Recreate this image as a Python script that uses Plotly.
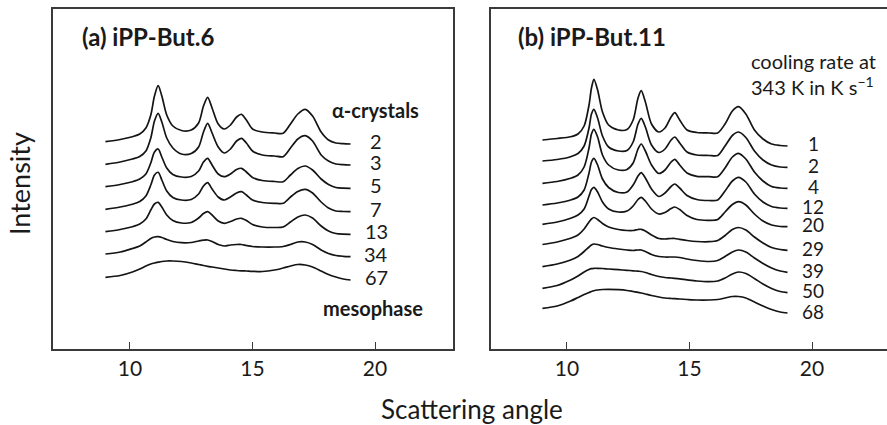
import plotly.graph_objects as go

W, H = 887, 425

# ---------------- data (scattering angle vs. intensity, arbitrary units, stacked) -------------
angle_a = [9.0, 9.6, 10.1, 10.4, 10.65, 10.85, 11.0, 11.15, 11.3, 11.5, 11.75, 12.1, 12.5, 12.8,
           13.0, 13.17, 13.35, 13.6, 13.85, 14.1, 14.35, 14.55, 14.75, 15.0, 15.4, 15.9, 16.25,
           16.55, 16.85, 17.15, 17.45, 17.8, 18.1, 18.4, 18.7, 19.0]

rates_a = ["2", "3", "5", "7", "13", "34", "67"]

a_2 = [207.3, 209.5, 212.3, 215, 221, 234, 253, 263.3, 253, 234, 223, 218.5, 219, 226, 243, 251.7,
       241, 225, 220, 224, 232, 234.7, 229, 220, 217, 216, 215.7, 225, 235, 239.7, 233, 217, 209,
       206, 205.3, 205]
a_3 = [184.7, 187, 190, 192.5, 198, 211, 228, 235.7, 227, 211, 201, 195, 195.5, 202, 217, 225.7,
       216, 202, 196, 200, 208, 210.7, 206, 198, 194, 193, 192.3, 201, 210, 213.3, 208, 194, 188,
       185, 184.3, 184]
a_5 = [162.3, 164.5, 167.3, 170, 175, 186, 197, 200, 192, 181, 174.5, 172, 172.5, 178, 187, 190.7,
       184, 175, 172.3, 175, 179.5, 180.7, 177, 171.5, 168.5, 167.5, 167.3, 174, 180.5, 183, 179,
       170, 164.5, 161.5, 160.8, 160.7]
a_7 = [139.7, 142, 144.7, 147.5, 153, 164, 174, 176.7, 169, 158, 151.5, 149, 149.5, 155, 163, 166.3,
       160, 152, 149, 152, 156, 157.3, 154, 149, 146.5, 145.7, 145.7, 152, 157.5, 159.7, 156, 147,
       141, 138, 137.5, 137.3]
a_13 = [117.3, 119.5, 122.3, 125, 130, 139, 145, 146.7, 142, 134, 128.5, 126, 126.5, 131, 135.5,
        137.3, 134, 128, 125.7, 127.5, 130, 130.7, 128.5, 124.5, 122, 121.5, 122, 127, 132, 134,
        131, 123, 118, 115.5, 114.8, 114.7]
a_34 = [95, 97, 100.5, 103, 107, 110.5, 112, 112.3, 111.5, 109.5, 107.5, 106.3, 106.5, 108, 108.8,
        109, 107.5, 104.5, 103, 104, 104.5, 104.5, 103.5, 102.5, 102, 102, 102.5, 104.5, 107, 107,
        104.5, 99, 95.5, 93.5, 92.7, 92.3]
a_67 = [71.7, 73.5, 77, 80, 83, 85, 86, 86.8, 87.5, 88, 88, 87.5, 86, 84.5, 83.5, 82.7, 82, 81, 80,
        79, 78.5, 78.2, 78, 77.7, 77.5, 79, 81, 83, 84.5, 84, 82, 78, 74.5, 72, 70, 69]

angle_b = [9.0, 9.6, 10.15, 10.45, 10.7, 10.9, 11.0, 11.1, 11.25, 11.45, 11.7, 12.1, 12.45, 12.7,
           12.9, 13.03, 13.2, 13.45, 13.75, 14.0, 14.25, 14.4, 14.6, 14.9, 15.3, 15.8, 16.15,
           16.45, 16.75, 17.0, 17.3, 17.65, 18.0, 18.35, 18.7, 19.0]

rates_b = ["1", "2", "4", "12", "20", "29", "39", "50", "68"]

b_1 = [209, 210.5, 212.3, 215, 223, 244, 261, 269.7, 259, 237, 224, 219, 219.5, 229, 251, 258.3,
       247, 225, 217, 221, 232, 236.3, 229, 219, 216.5, 216, 216, 225, 238, 242.3, 235, 219, 210,
       205, 203.5, 203]
b_2 = [188, 189.5, 192.3, 195.5, 203, 221, 235, 239.7, 231, 213, 202, 198, 198.5, 207, 225, 230.7,
       222, 204, 196.5, 200, 209, 212, 206, 197, 194, 193.5, 193.5, 203, 213.5, 217, 211.5, 198,
       189, 184, 182, 181.7]
b_4 = [165.7, 167.5, 170.7, 174, 182, 201, 215, 219.7, 212, 194, 184, 179, 179.5, 186, 200, 205,
       198, 184, 175.5, 179, 187, 189.7, 184, 176, 172.7, 172.3, 172.3, 181, 192, 195.7, 190, 177,
       168, 162.5, 161, 160.7]
b_12 = [144, 146, 149, 152, 159, 176, 187, 190.7, 184, 170, 161.5, 156.5, 157, 164, 173, 176.3, 171,
        160, 152.5, 156, 162.5, 165, 161, 153.5, 149.5, 148.5, 149, 158, 168, 171.7, 167, 155, 147,
        142.5, 141, 140.7]
b_20 = [124.7, 127, 130.7, 134, 140, 153, 159.5, 161.7, 157, 147, 140, 137, 138, 143, 149.5, 151.7,
        148, 140, 135, 136.5, 140.5, 142, 139.5, 133.5, 129.5, 128.7, 129.5, 137, 144.5, 147.3, 144,
        135, 128, 124, 122.5, 122.3]
b_29 = [104.5, 107, 110.7, 114, 120, 127, 130, 131.5, 129.5, 125.5, 122, 119.5, 118.5, 118.5, 119.5,
        119.7, 118, 114, 110.5, 110, 110.5, 110.5, 109.7, 108.5, 107.5, 107.3, 108.5, 113.5, 119.5,
        121.5, 119, 112, 106, 101.5, 99.5, 98.7]
b_39 = [82.3, 85, 89, 92.5, 97.5, 102, 104, 105, 104.5, 103, 101.5, 100, 99, 98.5, 99, 99, 97.5,
        94.5, 92.5, 92, 92, 92, 91.5, 90, 88.5, 87.5, 88.5, 92.5, 97, 99, 97, 91, 85.5, 81, 78, 76.7]
b_50 = [60.7, 63.5, 69, 73, 77, 79.5, 80.3, 80.7, 80.7, 80.5, 80, 79.3, 78.7, 78.2, 77.8, 77.5, 76.5,
        74.5, 72.5, 71.5, 71, 70.7, 70.2, 69.2, 68, 67.3, 68, 71, 75, 77, 75.5, 70.5, 65, 60.5, 57.5,
        56.3]
b_68 = [40.7, 43, 48, 51.5, 54.5, 56.5, 57.5, 58.3, 59, 59.5, 59.7, 59.3, 58.5, 57.5, 56.7, 56, 55,
        53.5, 52, 51, 50.5, 50.3, 50, 49.5, 49, 49, 49.5, 51, 52.5, 52.5, 51, 47, 43, 39.5, 37, 36]

curves_a = [a_2, a_3, a_5, a_7, a_13, a_34, a_67]
curves_b = [b_1, b_2, b_4, b_12, b_20, b_29, b_39, b_50, b_68]

x_ticks = [10, 15, 20]
x_range_a = [6.86, 23.18]
x_range_b = [6.9, 23.06]
y_range = [0, 340]
label_x = 20.05

# ---------------- styling ----------------
FONT = "Lato"
TXT = "#1a1a1a"
AXC = "#3a3a3a"
LINE = "#141414"


def px_x(p):
    return p / W


def px_y(p):
    return 1 - p / H


fig = go.Figure()

for ys, name in zip(curves_a, rates_a):
    fig.add_trace(go.Scatter(x=angle_a, y=ys, mode="lines", name=name, xaxis="x", yaxis="y",
                             line=dict(color=LINE, width=1.7, shape="spline", smoothing=0.8),
                             showlegend=False, hoverinfo="skip"))
for ys, name in zip(curves_b, rates_b):
    fig.add_trace(go.Scatter(x=angle_b, y=ys, mode="lines", name=name, xaxis="x2", yaxis="y2",
                             line=dict(color=LINE, width=1.7, shape="spline", smoothing=0.8),
                             showlegend=False, hoverinfo="skip"))

ydom = [px_y(349), px_y(9)]
axis_common = dict(showgrid=False, zeroline=False, linecolor=AXC, linewidth=1.5,
                   ticks="inside", ticklen=7, tickwidth=1.3, tickcolor=AXC,
                   tickvals=x_ticks, tickfont=dict(family=FONT, size=21, color=TXT))
fig.update_layout(
    width=W, height=H, margin=dict(l=0, r=0, t=0, b=0),
    paper_bgcolor="white", plot_bgcolor="white",
    xaxis=dict(domain=[px_x(53), px_x(453)], range=x_range_a, anchor="y", showline=True,
               mirror=True, **axis_common),
    yaxis=dict(domain=ydom, range=y_range, anchor="x", showline=True, mirror=True,
               linecolor=AXC, linewidth=1.5, showticklabels=False, ticks="",
               showgrid=False, zeroline=False),
    xaxis2=dict(domain=[px_x(491), 1.0], range=x_range_b, anchor="y2", showline=True,
                mirror=True, **axis_common),
    yaxis2=dict(domain=ydom, range=y_range, anchor="x2", showline=True, mirror=False,
                linecolor=AXC, linewidth=1.5, showticklabels=False, ticks="",
                showgrid=False, zeroline=False),
)

ann = []


def text(x, y, s, size, bold=False, xanchor="left", angle=0):
    ann.append(dict(x=px_x(x), y=px_y(y), xref="paper", yref="paper", text=("<b>%s</b>" % s) if bold else s,
                    showarrow=False, xanchor=xanchor, yanchor="middle", textangle=angle,
                    font=dict(family=FONT, size=size, color=TXT)))


text(20, 184, "Intensity", 27, xanchor="center", angle=-90)
text(472, 409, "Scattering angle", 26, xanchor="center")
text(80, 37, "(a) iPP-But.6", 24, bold=True)
text(516, 37, "(b) iPP-But.11", 24, bold=True)
text(330, 110, "α-crystals", 20, bold=True)
text(321, 308, "mesophase", 20, bold=True)
text(749, 61, "cooling rate at", 20)
text(749, 86, "343 K in K s<sup>−1</sup>", 20)

for ys, name in zip(curves_a, rates_a):
    ann.append(dict(x=label_x, y=ys[-1] + 3, xref="x", yref="y", text=name, showarrow=False,
                    xanchor="center", yanchor="middle",
                    font=dict(family=FONT, size=20, color=TXT)))
for ys, name in zip(curves_b, rates_b):
    ann.append(dict(x=label_x, y=ys[-1] + 2, xref="x2", yref="y2", text=name, showarrow=False,
                    xanchor="center", yanchor="middle",
                    font=dict(family=FONT, size=19, color=TXT)))

fig.update_layout(annotations=ann)
fig.write_html("out.html")
